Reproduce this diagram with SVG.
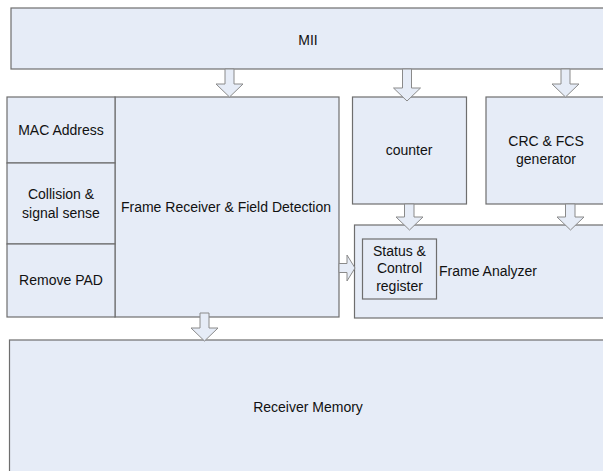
<svg xmlns="http://www.w3.org/2000/svg" width="603" height="471" viewBox="0 0 603 471">
<style>
.b{fill:#E6ECF7;stroke:#6E6E6E;stroke-width:1.2}
.a{fill:#E6ECF7;stroke:#8A8A8A;stroke-width:1}
text{font-family:"Liberation Sans",Arial,sans-serif;font-size:14px;fill:#111;text-anchor:middle}
</style>
<rect x="0" y="0" width="603" height="471" fill="#fff"/>
<g id="mii"><rect class="b" x="11" y="8" width="600" height="61"/><text x="308" y="45">MII</text></g>
<g id="memory"><rect class="b" x="9.5" y="340" width="600" height="140"/><text x="308" y="412">Receiver Memory</text></g>
<g id="frame-receiver"><rect class="b" x="115" y="97" width="224" height="220"/><text x="226" y="212">Frame Receiver &amp; Field Detection</text></g>
<g id="mac"><rect class="b" x="7" y="97" width="108" height="66"/><text x="61" y="135">MAC Address</text></g>
<g id="collision"><rect class="b" x="7" y="163" width="108" height="81"/><text x="61" y="199">Collision &amp;</text><text x="61" y="218">signal sense</text></g>
<g id="pad"><rect class="b" x="7" y="244" width="108" height="73"/><text x="61" y="285">Remove PAD</text></g>
<g id="counter"><rect class="b" x="352.5" y="97" width="114" height="107"/><text x="409" y="155">counter</text></g>
<g id="crc"><rect class="b" x="486" y="97" width="130" height="107"/><text x="546" y="146">CRC &amp; FCS</text><text x="546" y="164">generator</text></g>
<g id="analyzer"><rect class="b" x="354.5" y="225" width="260" height="93"/><text x="439" y="276" style="text-anchor:start">Frame Analyzer</text></g>
<g id="status"><rect class="b" x="362.5" y="239" width="74" height="60"/><text x="399.5" y="256">Status &amp;</text><text x="399.5" y="273">Control</text><text x="399.5" y="291">register</text></g>
<g id="connectors">
<path class="a" d="M225,69 V84 H216 L229.5,97 L243,84 H234 V69 Z"/>
<path class="a" d="M402.5,69 V88 H393.5 L407,101 L420.5,88 H411.5 V69 Z"/>
<path class="a" d="M561,69 V84 H552 L565.5,97 L579,84 H570 V69 Z"/>
<path class="a" d="M404.5,204 V217 H396 L409.5,230 L423,217 H414 V204 Z"/>
<path class="a" d="M565.5,204 V217 H557 L570.5,230 L584,217 H575 V204 Z"/>
<path class="a" d="M200,313 V328 H191 L204.5,341 L218,328 H209 V313 Z"/>
<path class="a" d="M339,263.5 H347 V255 L355,268 L347,281 V272.5 H339 Z"/>
</g>
</svg>
